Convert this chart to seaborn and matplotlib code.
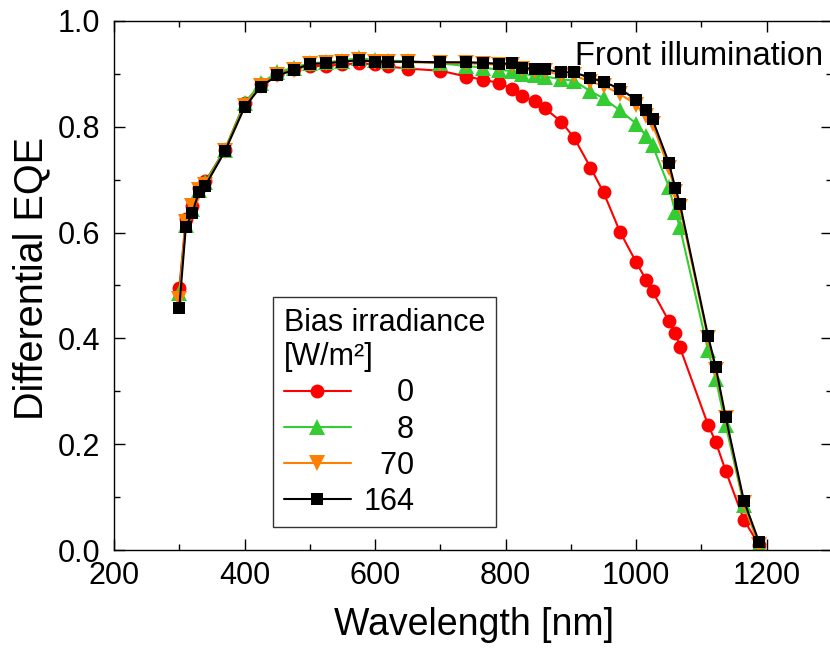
import numpy as np
import pandas as pd
import matplotlib
matplotlib.use("Agg")
import matplotlib.pyplot as plt
import seaborn as sns

# =========================
# Data
# =========================
wavelength = [300, 310, 320, 330, 340, 370, 400, 425, 450, 475,
              500, 525, 550, 575, 600, 620, 650, 700, 740, 765,
              790, 810, 825, 845, 860, 885, 905, 930, 950, 975,
              1000, 1015, 1025, 1050, 1060, 1067, 1110, 1122, 1137, 1165, 1188]

eqe_0 = [0.495, 0.625, 0.650, 0.685, 0.697, 0.757, 0.845, 0.880, 0.900, 0.910,
         0.915, 0.915, 0.918, 0.920, 0.918, 0.914, 0.910, 0.906, 0.895, 0.889,
         0.883, 0.872, 0.859, 0.848, 0.835, 0.810, 0.779, 0.723, 0.676, 0.602,
         0.544, 0.511, 0.489, 0.433, 0.411, 0.383, 0.237, 0.204, 0.150, 0.057, 0.010]

eqe_8 = [0.485, 0.615, 0.645, 0.680, 0.695, 0.757, 0.845, 0.882, 0.903, 0.912,
         0.920, 0.922, 0.925, 0.930, 0.926, 0.925, 0.924, 0.920, 0.915, 0.912,
         0.908, 0.905, 0.900, 0.897, 0.895, 0.890, 0.887, 0.867, 0.854, 0.831,
         0.806, 0.783, 0.765, 0.687, 0.638, 0.610, 0.378, 0.323, 0.237, 0.085, 0.010]

eqe_70 = [0.475, 0.620, 0.650, 0.680, 0.690, 0.755, 0.840, 0.878, 0.898, 0.908,
          0.918, 0.920, 0.923, 0.926, 0.923, 0.923, 0.922, 0.921, 0.920, 0.919,
          0.917, 0.917, 0.909, 0.906, 0.905, 0.898, 0.897, 0.885, 0.878, 0.862,
          0.842, 0.820, 0.805, 0.722, 0.676, 0.648, 0.400, 0.340, 0.250, 0.088, 0.010]

eqe_164 = [0.458, 0.610, 0.637, 0.677, 0.689, 0.754, 0.837, 0.876, 0.897, 0.907,
           0.919, 0.920, 0.923, 0.926, 0.923, 0.923, 0.923, 0.922, 0.922, 0.921,
           0.919, 0.920, 0.912, 0.909, 0.909, 0.903, 0.903, 0.892, 0.885, 0.872,
           0.851, 0.832, 0.814, 0.732, 0.684, 0.655, 0.405, 0.345, 0.252, 0.093, 0.016]

# labels padded with spaces so the numbers line up on the right
series_labels = ["    0", "    8", "  70", "164"]
series_values = [eqe_0, eqe_8, eqe_70, eqe_164]
series_colors = ["#ff0000", "#33cc33", "#ff8000", "#000000"]
series_markers = ["o", "^", "v", "s"]
series_msize = [10, 11, 11, 9]

# =========================
# Style
# =========================
sns.set_style("ticks")
plt.rcParams['font.family'] = ['Liberation Sans', 'DejaVu Sans']
plt.rcParams.update({
    'text.color': 'black', 'axes.labelcolor': 'black',
    'xtick.color': 'black', 'ytick.color': 'black',
    'xtick.direction': 'in', 'ytick.direction': 'in',
    'xtick.top': True, 'ytick.right': True,
    'xtick.minor.visible': True, 'ytick.minor.visible': True,
    'xtick.major.size': 8, 'ytick.major.size': 8,
    'xtick.minor.size': 4.5, 'ytick.minor.size': 4.5,
    'xtick.major.width': 1.0, 'ytick.major.width': 1.0,
    'xtick.minor.width': 1.0, 'ytick.minor.width': 1.0,
    'axes.linewidth': 1.0, 'axes.edgecolor': 'black',
})

fig = plt.figure(figsize=(8.3, 6.54), dpi=100)
ax = fig.add_axes([114 / 830, 1 - 550 / 654, 718 / 830, 529 / 654])

for lab, vals, col, mk, ms in zip(series_labels, series_values, series_colors,
                                  series_markers, series_msize):
    df = pd.DataFrame({"wl": wavelength, "eqe": vals})
    sns.lineplot(data=df, x="wl", y="eqe", ax=ax, color=col, marker=mk,
                 markersize=ms, markeredgewidth=0, linewidth=1.5,
                 label=lab, sort=False)

ax.set_xlim(200, 1300)
ax.set_ylim(0, 1.0)
ax.set_xticks(np.arange(200, 1201, 200))
ax.set_xticks(np.arange(300, 1300, 100), minor=True)
ax.set_yticks(np.arange(0, 1.01, 0.2))
ax.set_yticks(np.arange(0.1, 1.0, 0.2), minor=True)
ax.yaxis.set_major_formatter(matplotlib.ticker.FormatStrFormatter('%.1f'))
ax.tick_params(axis="x", which="major", labelsize=22, pad=8)
ax.tick_params(axis="y", which="major", labelsize=22, pad=10)

ax.set_xlabel("Wavelength [nm]", fontsize=27)
ax.xaxis.set_label_coords(474 / 830, 1 - 607 / 654, transform=fig.transFigure)
ax.set_ylabel("Differential EQE", fontsize=28.5)
ax.yaxis.set_label_coords(50 / 830, 1 - 278 / 654, transform=fig.transFigure)

fig.text(823 / 830, 1 - 65 / 654, "Front illumination", fontsize=23.5,
         ha="right", va="baseline")

leg = ax.legend(title="Bias irradiance\n[W/m²]", loc="upper left",
                bbox_to_anchor=(273 / 830, 1 - 297 / 654),
                bbox_transform=fig.transFigure, borderaxespad=0,
                fontsize=22, title_fontsize=22,
                frameon=True, fancybox=False, edgecolor="black",
                handlelength=2.2, handletextpad=0.4, labelspacing=0.2,
                borderpad=0.35, alignment="left")
leg.get_frame().set_linewidth(1.0)

plt.savefig("out.png", dpi=100)
plt.close()
